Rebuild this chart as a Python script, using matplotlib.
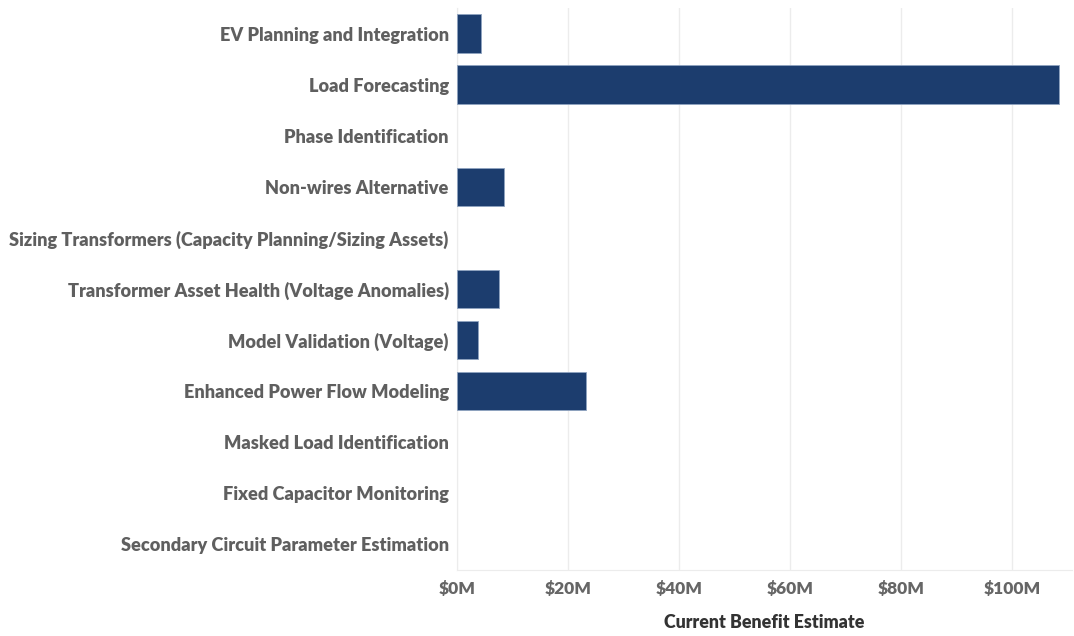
import matplotlib
matplotlib.use("Agg")
import matplotlib.pyplot as plt
from matplotlib.ticker import FuncFormatter, MultipleLocator

# use cases and their current benefit estimate ($M)
use_cases = [
    "EV Planning and Integration",
    "Load Forecasting",
    "Phase Identification",
    "Non-wires Alternative",
    "Sizing Transformers (Capacity Planning/Sizing Assets)",
    "Transformer Asset Health (Voltage Anomalies)",
    "Model Validation (Voltage)",
    "Enhanced Power Flow Modeling",
    "Masked Load Identification",
    "Fixed Capacitor Monitoring",
    "Secondary Circuit Parameter Estimation",
]
benefit_musd = [4.3, 108.5, 0, 8.5, 0, 7.6, 3.7, 23.3, 0, 0, 0]

plt.rcParams["font.family"] = ["Lato", "DejaVu Sans"]

fig = plt.figure(figsize=(10.74, 6.36), dpi=100)
ax = fig.add_axes([457 / 1074, 1 - 570 / 636, (1072 - 457) / 1074, (570 - 8) / 636])

pos = list(range(len(use_cases)))
# no outline on empty bars
widths = [0.6 if v > 0 else 0 for v in benefit_musd]
ax.barh(pos, benefit_musd, height=0.75, color="#1c3d6e", edgecolor="#8fa3c0", linewidth=widths, zorder=3)

ax.set_ylim(len(use_cases) - 0.5, -0.5)
ax.set_xlim(0, 110.8)
ax.set_yticks(pos)
ax.set_yticklabels(use_cases, fontsize=13.1, fontweight="heavy", color="#5f5f5f")
ax.xaxis.set_major_locator(MultipleLocator(20))
ax.xaxis.set_major_formatter(FuncFormatter(lambda v, p: f"${v:.0f}M"))
ax.tick_params(axis="x", labelsize=12.5, labelcolor="#666666", length=0, pad=8)
ax.tick_params(axis="y", length=0, pad=6)
fig.canvas.draw()
xlabels = ax.get_xticklabels()
for lab in xlabels:
    lab.set_fontweight("heavy")
xlabels[0].set_horizontalalignment("left")

ax.grid(axis="x", color="#ececec", linewidth=1, zorder=0)
for side in ["top", "right"]:
    ax.spines[side].set_visible(False)
ax.spines["bottom"].set_color("#ececec")
ax.spines["left"].set_color("#ececec")

ax.set_xlabel("Current Benefit Estimate", fontsize=12.8, fontweight="heavy", color="#333333", labelpad=12)

fig.savefig("out.png", dpi=100)
